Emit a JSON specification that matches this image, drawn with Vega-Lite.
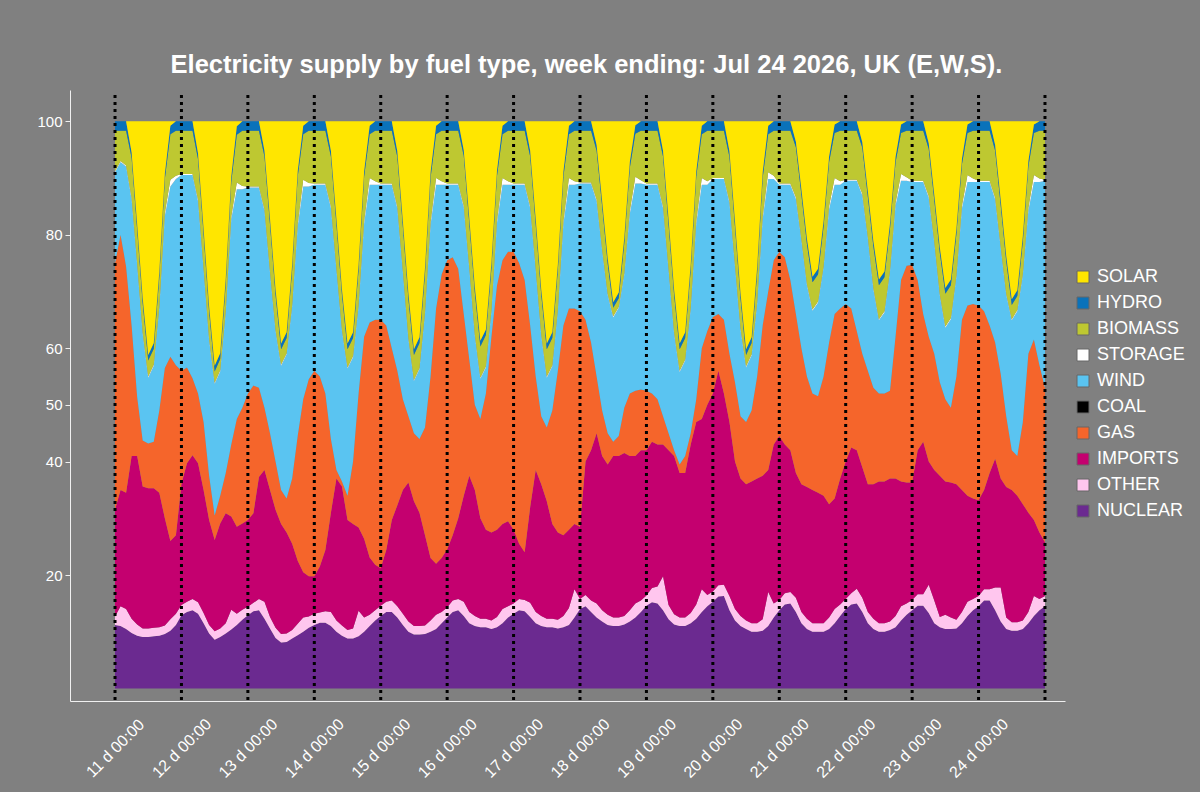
{
  "$schema": "https://vega.github.io/schema/vega-lite/v6.json",
  "width": 995,
  "height": 611,
  "autosize": {"type": "none"},
  "padding": {"left": 70, "top": 90, "right": 135, "bottom": 91},
  "background": "#808080",
  "config": {"view": {"stroke": null}, "font": "Liberation Sans"},
  "title": {
    "text": "Electricity supply by fuel type, week ending:  Jul 24 2026, UK (E,W,S).",
    "color": "white",
    "font": "Liberation Sans",
    "fontSize": 25.5,
    "fontWeight": "bold",
    "anchor": "middle",
    "dx": 19,
    "dy": 23,
    "offset": 15,
    "baseline": "alphabetic"
  },
  "datasets": {
    "fuels": [
      {"fuel": "NUCLEAR", "rank": 1}, {"fuel": "OTHER", "rank": 2}, {"fuel": "IMPORTS", "rank": 3},
      {"fuel": "GAS", "rank": 4}, {"fuel": "COAL", "rank": 5}, {"fuel": "WIND", "rank": 6},
      {"fuel": "STORAGE", "rank": 7}, {"fuel": "BIOMASS", "rank": 8}, {"fuel": "HYDRO", "rank": 9},
      {"fuel": "SOLAR", "rank": 10}
    ],
    "supply": [
      {"t":"2026-07-11T00:00","NUCLEAR":11.2,"OTHER":1.5,"IMPORTS":18.8,"GAS":43.5,"WIND":16,"STORAGE":0.2,"BIOMASS":7.1,"HYDRO":1.7,"SOLAR":0},
      {"t":"2026-07-11T02:00","NUCLEAR":11.0,"OTHER":3.5,"IMPORTS":20.5,"GAS":45,"WIND":12.8,"STORAGE":0.2,"BIOMASS":5.3,"HYDRO":1.7,"SOLAR":0},
      {"t":"2026-07-11T04:00","NUCLEAR":10.5,"OTHER":3.5,"IMPORTS":20.5,"GAS":39.9,"WIND":17.6,"STORAGE":0.2,"BIOMASS":6.1,"HYDRO":1.7,"SOLAR":0},
      {"t":"2026-07-11T06:00","NUCLEAR":9.8,"OTHER":2.5,"IMPORTS":28.7,"GAS":23,"WIND":22.2,"STORAGE":0.3,"BIOMASS":7.0,"HYDRO":1,"SOLAR":5.5},
      {"t":"2026-07-11T08:00","NUCLEAR":9.3,"OTHER":2.0,"IMPORTS":29.7,"GAS":10.4,"WIND":23.3,"STORAGE":0.2,"BIOMASS":6.0,"HYDRO":1,"SOLAR":18.1},
      {"t":"2026-07-11T10:00","NUCLEAR":9.1,"OTHER":1.5,"IMPORTS":25,"GAS":8.1,"WIND":18.8,"STORAGE":0.2,"BIOMASS":5.2,"HYDRO":1,"SOLAR":31.1},
      {"t":"2026-07-11T12:00","NUCLEAR":9.1,"OTHER":1.5,"IMPORTS":24.7,"GAS":7.9,"WIND":11.6,"STORAGE":0.2,"BIOMASS":2.8,"HYDRO":1,"SOLAR":41.2},
      {"t":"2026-07-11T14:00","NUCLEAR":9.2,"OTHER":1.5,"IMPORTS":24.6,"GAS":8.2,"WIND":13.4,"STORAGE":0.2,"BIOMASS":2.8,"HYDRO":1,"SOLAR":39.1},
      {"t":"2026-07-11T16:00","NUCLEAR":9.3,"OTHER":1.5,"IMPORTS":23.7,"GAS":14.5,"WIND":18.1,"STORAGE":0.2,"BIOMASS":5.2,"HYDRO":1,"SOLAR":26.5},
      {"t":"2026-07-11T18:00","NUCLEAR":9.6,"OTHER":1.5,"IMPORTS":18.9,"GAS":26.5,"WIND":26.8,"STORAGE":0.5,"BIOMASS":6.0,"HYDRO":1,"SOLAR":9.2},
      {"t":"2026-07-11T20:00","NUCLEAR":10.2,"OTHER":2.0,"IMPORTS":13.8,"GAS":32.5,"WIND":30,"STORAGE":1.2,"BIOMASS":8.0,"HYDRO":1.5,"SOLAR":0.8},
      {"t":"2026-07-11T22:00","NUCLEAR":11.2,"OTHER":2.0,"IMPORTS":13.8,"GAS":30,"WIND":32.8,"STORAGE":0.6,"BIOMASS":7.9,"HYDRO":1.7,"SOLAR":0},
      {"t":"2026-07-12T00:00","NUCLEAR":12.9,"OTHER":1.8,"IMPORTS":21.4,"GAS":19.9,"WIND":34.5,"STORAGE":0.2,"BIOMASS":7.6,"HYDRO":1.7,"SOLAR":0},
      {"t":"2026-07-12T02:00","NUCLEAR":13.5,"OTHER":1.8,"IMPORTS":24.4,"GAS":16.9,"WIND":33.9,"STORAGE":0.2,"BIOMASS":7.6,"HYDRO":1.7,"SOLAR":0},
      {"t":"2026-07-12T04:00","NUCLEAR":13.8,"OTHER":2.0,"IMPORTS":25.3,"GAS":13.6,"WIND":35.8,"STORAGE":0.2,"BIOMASS":7.6,"HYDRO":1.7,"SOLAR":0},
      {"t":"2026-07-12T06:00","NUCLEAR":13.2,"OTHER":2.0,"IMPORTS":24.5,"GAS":12.3,"WIND":33.9,"STORAGE":0.3,"BIOMASS":7.1,"HYDRO":1,"SOLAR":5.7},
      {"t":"2026-07-12T08:00","NUCLEAR":11.5,"OTHER":1.8,"IMPORTS":21.7,"GAS":12,"WIND":26.8,"STORAGE":0.2,"BIOMASS":6.1,"HYDRO":1,"SOLAR":18.9},
      {"t":"2026-07-12T10:00","NUCLEAR":9.7,"OTHER":1.5,"IMPORTS":18.5,"GAS":7.8,"WIND":23.9,"STORAGE":0.2,"BIOMASS":4.8,"HYDRO":1,"SOLAR":32.6},
      {"t":"2026-07-12T12:00","NUCLEAR":8.6,"OTHER":1.5,"IMPORTS":16.1,"GAS":4.3,"WIND":23.2,"STORAGE":0.2,"BIOMASS":2.0,"HYDRO":1,"SOLAR":43.1},
      {"t":"2026-07-12T14:00","NUCLEAR":9.1,"OTHER":1.5,"IMPORTS":18.5,"GAS":4.9,"WIND":21.9,"STORAGE":0.2,"BIOMASS":2.0,"HYDRO":1,"SOLAR":40.9},
      {"t":"2026-07-12T16:00","NUCLEAR":9.7,"OTHER":1.8,"IMPORTS":19.4,"GAS":7.1,"WIND":28.3,"STORAGE":0.2,"BIOMASS":4.8,"HYDRO":1,"SOLAR":27.7},
      {"t":"2026-07-12T18:00","NUCLEAR":10.4,"OTHER":3.5,"IMPORTS":16.4,"GAS":12.7,"WIND":39.7,"STORAGE":0.5,"BIOMASS":6.1,"HYDRO":1,"SOLAR":9.7},
      {"t":"2026-07-12T20:00","NUCLEAR":11.2,"OTHER":2.0,"IMPORTS":15.3,"GAS":19,"WIND":40.5,"STORAGE":1.2,"BIOMASS":8.4,"HYDRO":1.5,"SOLAR":0.9},
      {"t":"2026-07-12T22:00","NUCLEAR":12.1,"OTHER":1.8,"IMPORTS":15.2,"GAS":20.4,"WIND":38.5,"STORAGE":0.6,"BIOMASS":9.7,"HYDRO":1.7,"SOLAR":0},
      {"t":"2026-07-13T00:00","NUCLEAR":12.9,"OTHER":1.5,"IMPORTS":15.3,"GAS":22.3,"WIND":36.3,"STORAGE":0.2,"BIOMASS":9.8,"HYDRO":1.7,"SOLAR":0},
      {"t":"2026-07-13T02:00","NUCLEAR":13.6,"OTHER":1.5,"IMPORTS":15.8,"GAS":22.5,"WIND":34.9,"STORAGE":0.2,"BIOMASS":9.8,"HYDRO":1.7,"SOLAR":0},
      {"t":"2026-07-13T04:00","NUCLEAR":13.8,"OTHER":2.0,"IMPORTS":21.5,"GAS":15.7,"WIND":35.3,"STORAGE":0.2,"BIOMASS":9.8,"HYDRO":1.7,"SOLAR":0},
      {"t":"2026-07-13T06:00","NUCLEAR":12.3,"OTHER":3.0,"IMPORTS":23.2,"GAS":11,"WIND":34.7,"STORAGE":0.3,"BIOMASS":9.3,"HYDRO":1,"SOLAR":5.2},
      {"t":"2026-07-13T08:00","NUCLEAR":10.6,"OTHER":2.0,"IMPORTS":22.4,"GAS":10,"WIND":28.3,"STORAGE":0.2,"BIOMASS":8.3,"HYDRO":1,"SOLAR":17.2},
      {"t":"2026-07-13T10:00","NUCLEAR":8.9,"OTHER":1.8,"IMPORTS":20.8,"GAS":8.5,"WIND":23,"STORAGE":0.2,"BIOMASS":6.2,"HYDRO":1,"SOLAR":29.6},
      {"t":"2026-07-13T12:00","NUCLEAR":8.1,"OTHER":1.5,"IMPORTS":19.4,"GAS":6,"WIND":21.9,"STORAGE":0.2,"BIOMASS":2.7,"HYDRO":1,"SOLAR":39.2},
      {"t":"2026-07-13T14:00","NUCLEAR":8.2,"OTHER":1.5,"IMPORTS":17.8,"GAS":6,"WIND":25.4,"STORAGE":0.2,"BIOMASS":2.7,"HYDRO":1,"SOLAR":37.2},
      {"t":"2026-07-13T16:00","NUCLEAR":8.8,"OTHER":1.5,"IMPORTS":15.2,"GAS":11.5,"WIND":30.4,"STORAGE":0.2,"BIOMASS":6.2,"HYDRO":1,"SOLAR":25.2},
      {"t":"2026-07-13T18:00","NUCLEAR":9.4,"OTHER":2.0,"IMPORTS":11.1,"GAS":22,"WIND":36.9,"STORAGE":0.5,"BIOMASS":8.3,"HYDRO":1,"SOLAR":8.8},
      {"t":"2026-07-13T20:00","NUCLEAR":10.0,"OTHER":2.5,"IMPORTS":8,"GAS":30.5,"WIND":37.5,"STORAGE":1.2,"BIOMASS":8.0,"HYDRO":1.5,"SOLAR":0.8},
      {"t":"2026-07-13T22:00","NUCLEAR":10.7,"OTHER":2.0,"IMPORTS":7.1,"GAS":34.7,"WIND":34,"STORAGE":0.6,"BIOMASS":9.2,"HYDRO":1.7,"SOLAR":0},
      {"t":"2026-07-14T00:00","NUCLEAR":11.2,"OTHER":2.0,"IMPORTS":6.6,"GAS":36.2,"WIND":32.8,"STORAGE":0.2,"BIOMASS":9.3,"HYDRO":1.7,"SOLAR":0},
      {"t":"2026-07-14T02:00","NUCLEAR":11.6,"OTHER":1.8,"IMPORTS":8.1,"GAS":33.5,"WIND":33.8,"STORAGE":0.2,"BIOMASS":9.3,"HYDRO":1.7,"SOLAR":0},
      {"t":"2026-07-14T04:00","NUCLEAR":11.6,"OTHER":2.0,"IMPORTS":10.8,"GAS":27.6,"WIND":36.8,"STORAGE":0.2,"BIOMASS":9.3,"HYDRO":1.7,"SOLAR":0},
      {"t":"2026-07-14T06:00","NUCLEAR":11.0,"OTHER":2.5,"IMPORTS":17.5,"GAS":13,"WIND":40.7,"STORAGE":0.3,"BIOMASS":8.8,"HYDRO":1,"SOLAR":5.2},
      {"t":"2026-07-14T08:00","NUCLEAR":10.0,"OTHER":2.0,"IMPORTS":25,"GAS":1.5,"WIND":35.3,"STORAGE":0.2,"BIOMASS":7.8,"HYDRO":1,"SOLAR":17.2},
      {"t":"2026-07-14T10:00","NUCLEAR":9.3,"OTHER":1.8,"IMPORTS":24.5,"GAS":0.9,"WIND":26.5,"STORAGE":0.2,"BIOMASS":6.2,"HYDRO":1,"SOLAR":29.6},
      {"t":"2026-07-14T12:00","NUCLEAR":8.8,"OTHER":1.5,"IMPORTS":19.4,"GAS":4.3,"WIND":22.4,"STORAGE":0.2,"BIOMASS":3.2,"HYDRO":1,"SOLAR":39.2},
      {"t":"2026-07-14T14:00","NUCLEAR":8.8,"OTHER":1.8,"IMPORTS":18.4,"GAS":11,"WIND":18.4,"STORAGE":0.2,"BIOMASS":3.2,"HYDRO":1,"SOLAR":37.2},
      {"t":"2026-07-14T16:00","NUCLEAR":9.2,"OTHER":4.5,"IMPORTS":14.7,"GAS":23.6,"WIND":15.4,"STORAGE":0.2,"BIOMASS":6.2,"HYDRO":1,"SOLAR":25.2},
      {"t":"2026-07-14T18:00","NUCLEAR":10.0,"OTHER":2.5,"IMPORTS":13.9,"GAS":35.6,"WIND":19.9,"STORAGE":0.5,"BIOMASS":7.8,"HYDRO":1,"SOLAR":8.8},
      {"t":"2026-07-14T20:00","NUCLEAR":11.0,"OTHER":2.0,"IMPORTS":10.1,"GAS":41.4,"WIND":24.3,"STORAGE":1.2,"BIOMASS":7.7,"HYDRO":1.5,"SOLAR":0.8},
      {"t":"2026-07-14T22:00","NUCLEAR":12.0,"OTHER":1.8,"IMPORTS":8,"GAS":43.2,"WIND":23.8,"STORAGE":0.6,"BIOMASS":8.9,"HYDRO":1.7,"SOLAR":0},
      {"t":"2026-07-15T00:00","NUCLEAR":12.8,"OTHER":1.8,"IMPORTS":6.6,"GAS":43.8,"WIND":23.8,"STORAGE":0.2,"BIOMASS":9.3,"HYDRO":1.7,"SOLAR":0},
      {"t":"2026-07-15T02:00","NUCLEAR":13.5,"OTHER":1.8,"IMPORTS":9.1,"GAS":39.6,"WIND":24.8,"STORAGE":0.2,"BIOMASS":9.3,"HYDRO":1.7,"SOLAR":0},
      {"t":"2026-07-15T04:00","NUCLEAR":13.5,"OTHER":2.0,"IMPORTS":14.2,"GAS":30.3,"WIND":28.8,"STORAGE":0.2,"BIOMASS":9.3,"HYDRO":1.7,"SOLAR":0},
      {"t":"2026-07-15T06:00","NUCLEAR":12.5,"OTHER":2.0,"IMPORTS":17.8,"GAS":23.7,"WIND":28.6,"STORAGE":0.3,"BIOMASS":8.8,"HYDRO":1,"SOLAR":5.3},
      {"t":"2026-07-15T08:00","NUCLEAR":11.2,"OTHER":2.0,"IMPORTS":21.8,"GAS":16,"WIND":22.4,"STORAGE":0.2,"BIOMASS":7.8,"HYDRO":1,"SOLAR":17.6},
      {"t":"2026-07-15T10:00","NUCLEAR":10.0,"OTHER":1.8,"IMPORTS":24.5,"GAS":11.7,"WIND":13.6,"STORAGE":0.2,"BIOMASS":6.9,"HYDRO":1,"SOLAR":30.3},
      {"t":"2026-07-15T12:00","NUCLEAR":9.5,"OTHER":1.5,"IMPORTS":22,"GAS":12,"WIND":9.2,"STORAGE":0.2,"BIOMASS":4.4,"HYDRO":1,"SOLAR":40.2},
      {"t":"2026-07-15T14:00","NUCLEAR":9.5,"OTHER":1.5,"IMPORTS":20,"GAS":13,"WIND":12.3,"STORAGE":0.2,"BIOMASS":4.4,"HYDRO":1,"SOLAR":38.1},
      {"t":"2026-07-15T16:00","NUCLEAR":9.6,"OTHER":1.5,"IMPORTS":15.9,"GAS":19,"WIND":20.1,"STORAGE":0.2,"BIOMASS":6.9,"HYDRO":1,"SOLAR":25.8},
      {"t":"2026-07-15T18:00","NUCLEAR":10.0,"OTHER":2.0,"IMPORTS":11,"GAS":32,"WIND":26.7,"STORAGE":0.5,"BIOMASS":7.8,"HYDRO":1,"SOLAR":9.0},
      {"t":"2026-07-15T20:00","NUCLEAR":10.5,"OTHER":2.5,"IMPORTS":9,"GAS":45,"WIND":21.8,"STORAGE":1.2,"BIOMASS":7.7,"HYDRO":1.5,"SOLAR":0.8},
      {"t":"2026-07-15T22:00","NUCLEAR":11.5,"OTHER":2.0,"IMPORTS":9.5,"GAS":50,"WIND":15.8,"STORAGE":0.6,"BIOMASS":8.9,"HYDRO":1.7,"SOLAR":0},
      {"t":"2026-07-16T00:00","NUCLEAR":12.5,"OTHER":1.8,"IMPORTS":10.2,"GAS":51,"WIND":13.3,"STORAGE":0.2,"BIOMASS":9.3,"HYDRO":1.7,"SOLAR":0},
      {"t":"2026-07-16T02:00","NUCLEAR":13.5,"OTHER":2.0,"IMPORTS":11.5,"GAS":49,"WIND":12.8,"STORAGE":0.2,"BIOMASS":9.3,"HYDRO":1.7,"SOLAR":0},
      {"t":"2026-07-16T04:00","NUCLEAR":13.8,"OTHER":2.0,"IMPORTS":14.2,"GAS":44,"WIND":14.8,"STORAGE":0.2,"BIOMASS":9.3,"HYDRO":1.7,"SOLAR":0},
      {"t":"2026-07-16T06:00","NUCLEAR":12.8,"OTHER":2.5,"IMPORTS":18.7,"GAS":32,"WIND":18.8,"STORAGE":0.3,"BIOMASS":8.8,"HYDRO":1,"SOLAR":5.1},
      {"t":"2026-07-16T08:00","NUCLEAR":11.5,"OTHER":2.0,"IMPORTS":24,"GAS":20.5,"WIND":16,"STORAGE":0.2,"BIOMASS":7.8,"HYDRO":1,"SOLAR":17.0},
      {"t":"2026-07-16T10:00","NUCLEAR":11.0,"OTHER":1.8,"IMPORTS":22.2,"GAS":15,"WIND":12.2,"STORAGE":0.2,"BIOMASS":7.4,"HYDRO":1,"SOLAR":29.2},
      {"t":"2026-07-16T12:00","NUCLEAR":10.8,"OTHER":1.5,"IMPORTS":17.7,"GAS":17.5,"WIND":7.1,"STORAGE":0.2,"BIOMASS":5.5,"HYDRO":1,"SOLAR":38.7},
      {"t":"2026-07-16T14:00","NUCLEAR":10.8,"OTHER":1.5,"IMPORTS":15.7,"GAS":24,"WIND":4.6,"STORAGE":0.2,"BIOMASS":5.5,"HYDRO":1,"SOLAR":36.7},
      {"t":"2026-07-16T16:00","NUCLEAR":10.5,"OTHER":1.5,"IMPORTS":15.5,"GAS":34.5,"WIND":4.5,"STORAGE":0.2,"BIOMASS":7.4,"HYDRO":1,"SOLAR":24.9},
      {"t":"2026-07-16T18:00","NUCLEAR":10.8,"OTHER":1.8,"IMPORTS":15.4,"GAS":43,"WIND":11,"STORAGE":0.5,"BIOMASS":7.8,"HYDRO":1,"SOLAR":8.7},
      {"t":"2026-07-16T20:00","NUCLEAR":11.5,"OTHER":2.5,"IMPORTS":15,"GAS":46.5,"WIND":13.3,"STORAGE":1.2,"BIOMASS":7.7,"HYDRO":1.5,"SOLAR":0.8},
      {"t":"2026-07-16T22:00","NUCLEAR":12.5,"OTHER":2.0,"IMPORTS":15,"GAS":47.5,"WIND":11.8,"STORAGE":0.6,"BIOMASS":8.9,"HYDRO":1.7,"SOLAR":0},
      {"t":"2026-07-17T00:00","NUCLEAR":13.2,"OTHER":1.8,"IMPORTS":13,"GAS":49,"WIND":11.8,"STORAGE":0.2,"BIOMASS":9.3,"HYDRO":1.7,"SOLAR":0},
      {"t":"2026-07-17T02:00","NUCLEAR":13.8,"OTHER":2.0,"IMPORTS":9.7,"GAS":49.5,"WIND":13.8,"STORAGE":0.2,"BIOMASS":9.3,"HYDRO":1.7,"SOLAR":0},
      {"t":"2026-07-17T04:00","NUCLEAR":13.6,"OTHER":2.0,"IMPORTS":8.4,"GAS":48,"WIND":16.8,"STORAGE":0.2,"BIOMASS":9.3,"HYDRO":1.7,"SOLAR":0},
      {"t":"2026-07-17T06:00","NUCLEAR":12.6,"OTHER":2.5,"IMPORTS":16.9,"GAS":32,"WIND":20.7,"STORAGE":0.3,"BIOMASS":8.8,"HYDRO":1,"SOLAR":5.2},
      {"t":"2026-07-17T08:00","NUCLEAR":11.5,"OTHER":2.0,"IMPORTS":25,"GAS":16.5,"WIND":18.8,"STORAGE":0.2,"BIOMASS":7.8,"HYDRO":1,"SOLAR":17.2},
      {"t":"2026-07-17T10:00","NUCLEAR":11.0,"OTHER":1.8,"IMPORTS":23.2,"GAS":12,"WIND":14.2,"STORAGE":0.2,"BIOMASS":7.0,"HYDRO":1,"SOLAR":29.6},
      {"t":"2026-07-17T12:00","NUCLEAR":10.8,"OTHER":1.5,"IMPORTS":20.7,"GAS":13,"WIND":8.8,"STORAGE":0.2,"BIOMASS":4.8,"HYDRO":1,"SOLAR":39.2},
      {"t":"2026-07-17T14:00","NUCLEAR":10.8,"OTHER":1.5,"IMPORTS":16.7,"GAS":20,"WIND":7.8,"STORAGE":0.2,"BIOMASS":4.8,"HYDRO":1,"SOLAR":37.2},
      {"t":"2026-07-17T16:00","NUCLEAR":10.6,"OTHER":1.5,"IMPORTS":15.4,"GAS":28.5,"WIND":10.6,"STORAGE":0.2,"BIOMASS":7.0,"HYDRO":1,"SOLAR":25.2},
      {"t":"2026-07-17T18:00","NUCLEAR":10.8,"OTHER":2.0,"IMPORTS":14.2,"GAS":37,"WIND":17.9,"STORAGE":0.5,"BIOMASS":7.8,"HYDRO":1,"SOLAR":8.8},
      {"t":"2026-07-17T20:00","NUCLEAR":11.2,"OTHER":3.0,"IMPORTS":13.8,"GAS":39,"WIND":21.8,"STORAGE":1.2,"BIOMASS":7.7,"HYDRO":1.5,"SOLAR":0.8},
      {"t":"2026-07-17T22:00","NUCLEAR":12.5,"OTHER":5.0,"IMPORTS":11.5,"GAS":38,"WIND":21.8,"STORAGE":0.6,"BIOMASS":8.9,"HYDRO":1.7,"SOLAR":0},
      {"t":"2026-07-18T00:00","NUCLEAR":14.0,"OTHER":1.8,"IMPORTS":12.7,"GAS":38,"WIND":22.5,"STORAGE":0.2,"BIOMASS":9.1,"HYDRO":1.7,"SOLAR":0},
      {"t":"2026-07-18T02:00","NUCLEAR":14.5,"OTHER":2.0,"IMPORTS":23.5,"GAS":25,"WIND":24,"STORAGE":0.2,"BIOMASS":9.1,"HYDRO":1.7,"SOLAR":0},
      {"t":"2026-07-18T04:00","NUCLEAR":13.5,"OTHER":2.0,"IMPORTS":26.5,"GAS":19,"WIND":28,"STORAGE":0.2,"BIOMASS":9.1,"HYDRO":1.7,"SOLAR":0},
      {"t":"2026-07-18T06:00","NUCLEAR":12.5,"OTHER":2.5,"IMPORTS":30,"GAS":10,"WIND":30.9,"STORAGE":0.3,"BIOMASS":8.6,"HYDRO":1,"SOLAR":4.2},
      {"t":"2026-07-18T08:00","NUCLEAR":11.8,"OTHER":2.0,"IMPORTS":27.2,"GAS":8,"WIND":28.2,"STORAGE":0.2,"BIOMASS":7.6,"HYDRO":1,"SOLAR":14.0},
      {"t":"2026-07-18T10:00","NUCLEAR":11.2,"OTHER":1.8,"IMPORTS":26.5,"GAS":5.5,"WIND":24.4,"STORAGE":0.2,"BIOMASS":5.3,"HYDRO":1,"SOLAR":24.1},
      {"t":"2026-07-18T12:00","NUCLEAR":11.0,"OTHER":1.5,"IMPORTS":28.5,"GAS":2.5,"WIND":21.9,"STORAGE":0.2,"BIOMASS":1.5,"HYDRO":1,"SOLAR":31.9},
      {"t":"2026-07-18T14:00","NUCLEAR":11.0,"OTHER":1.5,"IMPORTS":28.5,"GAS":3.5,"WIND":22.6,"STORAGE":0.2,"BIOMASS":1.5,"HYDRO":1,"SOLAR":30.2},
      {"t":"2026-07-18T16:00","NUCLEAR":11.3,"OTHER":1.5,"IMPORTS":28.7,"GAS":8,"WIND":23.5,"STORAGE":0.2,"BIOMASS":5.3,"HYDRO":1,"SOLAR":20.5},
      {"t":"2026-07-18T18:00","NUCLEAR":11.8,"OTHER":2.0,"IMPORTS":27.2,"GAS":11,"WIND":31.7,"STORAGE":0.5,"BIOMASS":7.6,"HYDRO":1,"SOLAR":7.2},
      {"t":"2026-07-18T20:00","NUCLEAR":12.5,"OTHER":2.5,"IMPORTS":26,"GAS":11.5,"WIND":36.5,"STORAGE":1.2,"BIOMASS":7.6,"HYDRO":1.5,"SOLAR":0.7},
      {"t":"2026-07-18T22:00","NUCLEAR":13.5,"OTHER":2.0,"IMPORTS":26.5,"GAS":10.7,"WIND":36.3,"STORAGE":0.6,"BIOMASS":8.7,"HYDRO":1.7,"SOLAR":0},
      {"t":"2026-07-19T00:00","NUCLEAR":14.6,"OTHER":1.8,"IMPORTS":25.6,"GAS":10.5,"WIND":36.3,"STORAGE":0.2,"BIOMASS":9.3,"HYDRO":1.7,"SOLAR":0},
      {"t":"2026-07-19T02:00","NUCLEAR":15.2,"OTHER":2.5,"IMPORTS":25.8,"GAS":8.5,"WIND":36.8,"STORAGE":0.2,"BIOMASS":9.3,"HYDRO":1.7,"SOLAR":0},
      {"t":"2026-07-19T04:00","NUCLEAR":15.0,"OTHER":3.0,"IMPORTS":25,"GAS":8,"WIND":37.8,"STORAGE":0.2,"BIOMASS":9.3,"HYDRO":1.7,"SOLAR":0},
      {"t":"2026-07-19T06:00","NUCLEAR":13.8,"OTHER":6.0,"IMPORTS":23.2,"GAS":5,"WIND":36.7,"STORAGE":0.3,"BIOMASS":8.8,"HYDRO":1,"SOLAR":5.2},
      {"t":"2026-07-19T08:00","NUCLEAR":12.2,"OTHER":2.5,"IMPORTS":27.3,"GAS":3,"WIND":28.8,"STORAGE":0.2,"BIOMASS":7.8,"HYDRO":1,"SOLAR":17.2},
      {"t":"2026-07-19T10:00","NUCLEAR":11.3,"OTHER":1.8,"IMPORTS":27.9,"GAS":1,"WIND":20.6,"STORAGE":0.2,"BIOMASS":6.6,"HYDRO":1,"SOLAR":29.6},
      {"t":"2026-07-19T12:00","NUCLEAR":11.0,"OTHER":1.5,"IMPORTS":25.5,"GAS":1.5,"WIND":16.3,"STORAGE":0.2,"BIOMASS":3.8,"HYDRO":1,"SOLAR":39.2},
      {"t":"2026-07-19T14:00","NUCLEAR":11.0,"OTHER":1.5,"IMPORTS":25.5,"GAS":3,"WIND":16.8,"STORAGE":0.2,"BIOMASS":3.8,"HYDRO":1,"SOLAR":37.2},
      {"t":"2026-07-19T16:00","NUCLEAR":11.5,"OTHER":1.8,"IMPORTS":29.7,"GAS":2,"WIND":22,"STORAGE":0.2,"BIOMASS":6.6,"HYDRO":1,"SOLAR":25.2},
      {"t":"2026-07-19T18:00","NUCLEAR":12.3,"OTHER":2.5,"IMPORTS":32.2,"GAS":4,"WIND":30.9,"STORAGE":0.5,"BIOMASS":7.8,"HYDRO":1,"SOLAR":8.8},
      {"t":"2026-07-19T20:00","NUCLEAR":13.5,"OTHER":4.0,"IMPORTS":30,"GAS":12.5,"WIND":28.8,"STORAGE":1.2,"BIOMASS":7.7,"HYDRO":1.5,"SOLAR":0.8},
      {"t":"2026-07-19T22:00","NUCLEAR":14.5,"OTHER":2.0,"IMPORTS":33.5,"GAS":13,"WIND":25.8,"STORAGE":0.6,"BIOMASS":8.9,"HYDRO":1.7,"SOLAR":0},
      {"t":"2026-07-20T00:00","NUCLEAR":15.3,"OTHER":1.8,"IMPORTS":34.9,"GAS":13.5,"WIND":24.3,"STORAGE":0.2,"BIOMASS":8.3,"HYDRO":1.7,"SOLAR":0},
      {"t":"2026-07-20T02:00","NUCLEAR":16.2,"OTHER":2.0,"IMPORTS":37.8,"GAS":10,"WIND":23.8,"STORAGE":0.2,"BIOMASS":8.3,"HYDRO":1.7,"SOLAR":0},
      {"t":"2026-07-20T04:00","NUCLEAR":16.3,"OTHER":2.0,"IMPORTS":33.7,"GAS":13,"WIND":24.8,"STORAGE":0.2,"BIOMASS":8.3,"HYDRO":1.7,"SOLAR":0},
      {"t":"2026-07-20T06:00","NUCLEAR":13.8,"OTHER":2.5,"IMPORTS":30.7,"GAS":12,"WIND":26.6,"STORAGE":0.3,"BIOMASS":7.8,"HYDRO":1,"SOLAR":5.3},
      {"t":"2026-07-20T08:00","NUCLEAR":12.0,"OTHER":2.0,"IMPORTS":26,"GAS":14,"WIND":20.4,"STORAGE":0.2,"BIOMASS":6.8,"HYDRO":1,"SOLAR":17.6},
      {"t":"2026-07-20T10:00","NUCLEAR":11.0,"OTHER":1.8,"IMPORTS":24.2,"GAS":11,"WIND":15.3,"STORAGE":0.2,"BIOMASS":5.2,"HYDRO":1,"SOLAR":30.3},
      {"t":"2026-07-20T12:00","NUCLEAR":10.5,"OTHER":1.5,"IMPORTS":24,"GAS":11,"WIND":9.6,"STORAGE":0.2,"BIOMASS":2.0,"HYDRO":1,"SOLAR":40.2},
      {"t":"2026-07-20T14:00","NUCLEAR":10.0,"OTHER":1.5,"IMPORTS":25,"GAS":12.5,"WIND":9.7,"STORAGE":0.2,"BIOMASS":2.0,"HYDRO":1,"SOLAR":38.1},
      {"t":"2026-07-20T16:00","NUCLEAR":10.0,"OTHER":1.5,"IMPORTS":25.5,"GAS":18,"WIND":12.8,"STORAGE":0.2,"BIOMASS":5.2,"HYDRO":1,"SOLAR":25.8},
      {"t":"2026-07-20T18:00","NUCLEAR":10.2,"OTHER":2.0,"IMPORTS":25.3,"GAS":26.5,"WIND":18.7,"STORAGE":0.5,"BIOMASS":6.8,"HYDRO":1,"SOLAR":9.0},
      {"t":"2026-07-20T20:00","NUCLEAR":11.0,"OTHER":6.0,"IMPORTS":21.5,"GAS":31.5,"WIND":19.8,"STORAGE":1.2,"BIOMASS":6.7,"HYDRO":1.5,"SOLAR":0.8},
      {"t":"2026-07-20T22:00","NUCLEAR":12.5,"OTHER":2.5,"IMPORTS":28,"GAS":32.5,"WIND":14.3,"STORAGE":0.6,"BIOMASS":7.9,"HYDRO":1.7,"SOLAR":0},
      {"t":"2026-07-21T00:00","NUCLEAR":13.8,"OTHER":1.8,"IMPORTS":28.9,"GAS":32.5,"WIND":11.8,"STORAGE":0.2,"BIOMASS":9.3,"HYDRO":1.7,"SOLAR":0},
      {"t":"2026-07-21T02:00","NUCLEAR":14.8,"OTHER":2.0,"IMPORTS":26.2,"GAS":33,"WIND":12.8,"STORAGE":0.2,"BIOMASS":9.3,"HYDRO":1.7,"SOLAR":0},
      {"t":"2026-07-21T04:00","NUCLEAR":15.0,"OTHER":2.0,"IMPORTS":25,"GAS":30,"WIND":16.8,"STORAGE":0.2,"BIOMASS":9.3,"HYDRO":1.7,"SOLAR":0},
      {"t":"2026-07-21T06:00","NUCLEAR":13.5,"OTHER":2.5,"IMPORTS":22,"GAS":28,"WIND":20.3,"STORAGE":0.3,"BIOMASS":8.8,"HYDRO":1,"SOLAR":3.6},
      {"t":"2026-07-21T08:00","NUCLEAR":11.5,"OTHER":2.0,"IMPORTS":22.5,"GAS":24,"WIND":19,"STORAGE":0.2,"BIOMASS":7.8,"HYDRO":1,"SOLAR":12.0},
      {"t":"2026-07-21T10:00","NUCLEAR":10.5,"OTHER":1.8,"IMPORTS":23.2,"GAS":19.5,"WIND":16.1,"STORAGE":0.2,"BIOMASS":7.0,"HYDRO":1,"SOLAR":20.7},
      {"t":"2026-07-21T12:00","NUCLEAR":10.0,"OTHER":1.5,"IMPORTS":23.5,"GAS":17,"WIND":14.6,"STORAGE":0.2,"BIOMASS":4.8,"HYDRO":1,"SOLAR":27.4},
      {"t":"2026-07-21T14:00","NUCLEAR":10.0,"OTHER":1.5,"IMPORTS":23,"GAS":17,"WIND":16.5,"STORAGE":0.2,"BIOMASS":4.8,"HYDRO":1,"SOLAR":26.0},
      {"t":"2026-07-21T16:00","NUCLEAR":10.0,"OTHER":1.5,"IMPORTS":22.5,"GAS":21,"WIND":19.2,"STORAGE":0.2,"BIOMASS":7.0,"HYDRO":1,"SOLAR":17.6},
      {"t":"2026-07-21T18:00","NUCLEAR":10.5,"OTHER":2.0,"IMPORTS":20,"GAS":28.5,"WIND":23.5,"STORAGE":0.5,"BIOMASS":7.8,"HYDRO":1,"SOLAR":6.2},
      {"t":"2026-07-21T20:00","NUCLEAR":11.5,"OTHER":2.5,"IMPORTS":19.5,"GAS":32.5,"WIND":22.8,"STORAGE":1.2,"BIOMASS":7.9,"HYDRO":1.5,"SOLAR":0.6},
      {"t":"2026-07-21T22:00","NUCLEAR":12.8,"OTHER":2.0,"IMPORTS":22.2,"GAS":30,"WIND":21.8,"STORAGE":0.6,"BIOMASS":8.9,"HYDRO":1.7,"SOLAR":0},
      {"t":"2026-07-22T00:00","NUCLEAR":14.0,"OTHER":1.8,"IMPORTS":24.2,"GAS":27.8,"WIND":21.7,"STORAGE":0.2,"BIOMASS":8.6,"HYDRO":1.7,"SOLAR":0},
      {"t":"2026-07-22T02:00","NUCLEAR":14.8,"OTHER":2.0,"IMPORTS":25.7,"GAS":24.5,"WIND":22.5,"STORAGE":0.2,"BIOMASS":8.6,"HYDRO":1.7,"SOLAR":0},
      {"t":"2026-07-22T04:00","NUCLEAR":15.0,"OTHER":2.6,"IMPORTS":24.4,"GAS":21,"WIND":26.5,"STORAGE":0.2,"BIOMASS":8.6,"HYDRO":1.7,"SOLAR":0},
      {"t":"2026-07-22T06:00","NUCLEAR":13.5,"OTHER":2.5,"IMPORTS":23,"GAS":20,"WIND":27.9,"STORAGE":0.3,"BIOMASS":8.1,"HYDRO":1,"SOLAR":3.7},
      {"t":"2026-07-22T08:00","NUCLEAR":11.5,"OTHER":2.0,"IMPORTS":22.5,"GAS":20,"WIND":23.4,"STORAGE":0.2,"BIOMASS":7.1,"HYDRO":1,"SOLAR":12.3},
      {"t":"2026-07-22T10:00","NUCLEAR":10.5,"OTHER":1.8,"IMPORTS":23.7,"GAS":17,"WIND":17.4,"STORAGE":0.2,"BIOMASS":7.3,"HYDRO":1,"SOLAR":21.1},
      {"t":"2026-07-22T12:00","NUCLEAR":10.0,"OTHER":1.5,"IMPORTS":25,"GAS":15.5,"WIND":12.9,"STORAGE":0.2,"BIOMASS":6.0,"HYDRO":1,"SOLAR":27.9},
      {"t":"2026-07-22T14:00","NUCLEAR":10.0,"OTHER":1.5,"IMPORTS":25,"GAS":15.5,"WIND":14.3,"STORAGE":0.2,"BIOMASS":6.0,"HYDRO":1,"SOLAR":26.5},
      {"t":"2026-07-22T16:00","NUCLEAR":10.3,"OTHER":1.5,"IMPORTS":25.2,"GAS":15.5,"WIND":21,"STORAGE":0.2,"BIOMASS":7.3,"HYDRO":1,"SOLAR":18.0},
      {"t":"2026-07-22T18:00","NUCLEAR":10.8,"OTHER":2.0,"IMPORTS":24.2,"GAS":25,"WIND":23.1,"STORAGE":0.5,"BIOMASS":7.1,"HYDRO":1,"SOLAR":6.3},
      {"t":"2026-07-22T20:00","NUCLEAR":12.0,"OTHER":2.5,"IMPORTS":22,"GAS":35.5,"WIND":17.5,"STORAGE":1.2,"BIOMASS":7.2,"HYDRO":1.5,"SOLAR":0.6},
      {"t":"2026-07-22T22:00","NUCLEAR":13.0,"OTHER":2.0,"IMPORTS":21.3,"GAS":38.2,"WIND":15,"STORAGE":0.6,"BIOMASS":8.2,"HYDRO":1.7,"SOLAR":0},
      {"t":"2026-07-23T00:00","NUCLEAR":13.8,"OTHER":1.8,"IMPORTS":20.7,"GAS":38.4,"WIND":14.6,"STORAGE":0.2,"BIOMASS":8.8,"HYDRO":1.7,"SOLAR":0},
      {"t":"2026-07-23T02:00","NUCLEAR":14.6,"OTHER":2.0,"IMPORTS":25.4,"GAS":30,"WIND":17.3,"STORAGE":0.2,"BIOMASS":8.8,"HYDRO":1.7,"SOLAR":0},
      {"t":"2026-07-23T04:00","NUCLEAR":14.6,"OTHER":2.0,"IMPORTS":26.9,"GAS":22.5,"WIND":23.3,"STORAGE":0.2,"BIOMASS":8.8,"HYDRO":1.7,"SOLAR":0},
      {"t":"2026-07-23T06:00","NUCLEAR":13.3,"OTHER":5.0,"IMPORTS":21.7,"GAS":22,"WIND":24.5,"STORAGE":0.3,"BIOMASS":8.3,"HYDRO":1,"SOLAR":3.9},
      {"t":"2026-07-23T08:00","NUCLEAR":11.5,"OTHER":4.0,"IMPORTS":23,"GAS":20.5,"WIND":19.6,"STORAGE":0.2,"BIOMASS":7.3,"HYDRO":1,"SOLAR":12.9},
      {"t":"2026-07-23T10:00","NUCLEAR":10.8,"OTHER":1.8,"IMPORTS":24.9,"GAS":16.5,"WIND":15.3,"STORAGE":0.2,"BIOMASS":7.3,"HYDRO":1,"SOLAR":22.2},
      {"t":"2026-07-23T12:00","NUCLEAR":10.5,"OTHER":2.5,"IMPORTS":23.5,"GAS":14.5,"WIND":12.6,"STORAGE":0.2,"BIOMASS":5.8,"HYDRO":1,"SOLAR":29.4},
      {"t":"2026-07-23T14:00","NUCLEAR":10.5,"OTHER":2.0,"IMPORTS":23.8,"GAS":13.2,"WIND":15.6,"STORAGE":0.2,"BIOMASS":5.8,"HYDRO":1,"SOLAR":27.9},
      {"t":"2026-07-23T16:00","NUCLEAR":10.6,"OTHER":1.5,"IMPORTS":23.9,"GAS":19,"WIND":17.6,"STORAGE":0.2,"BIOMASS":7.3,"HYDRO":1,"SOLAR":18.9},
      {"t":"2026-07-23T18:00","NUCLEAR":11.5,"OTHER":2.0,"IMPORTS":21.5,"GAS":30,"WIND":19.6,"STORAGE":0.5,"BIOMASS":7.3,"HYDRO":1,"SOLAR":6.6},
      {"t":"2026-07-23T20:00","NUCLEAR":12.8,"OTHER":2.5,"IMPORTS":18.7,"GAS":33.5,"WIND":21.8,"STORAGE":1.2,"BIOMASS":7.4,"HYDRO":1.5,"SOLAR":0.6},
      {"t":"2026-07-23T22:00","NUCLEAR":13.8,"OTHER":2.0,"IMPORTS":17.7,"GAS":34.3,"WIND":21.5,"STORAGE":0.6,"BIOMASS":8.4,"HYDRO":1.7,"SOLAR":0},
      {"t":"2026-07-24T00:00","NUCLEAR":14.5,"OTHER":1.8,"IMPORTS":16.9,"GAS":34.3,"WIND":21.8,"STORAGE":0.2,"BIOMASS":8.8,"HYDRO":1.7,"SOLAR":0},
      {"t":"2026-07-24T02:00","NUCLEAR":15.5,"OTHER":2.0,"IMPORTS":17.5,"GAS":31.5,"WIND":22.8,"STORAGE":0.2,"BIOMASS":8.8,"HYDRO":1.7,"SOLAR":0},
      {"t":"2026-07-24T04:00","NUCLEAR":15.5,"OTHER":2.0,"IMPORTS":20.5,"GAS":26,"WIND":25.3,"STORAGE":0.2,"BIOMASS":8.8,"HYDRO":1.7,"SOLAR":0},
      {"t":"2026-07-24T06:00","NUCLEAR":13.8,"OTHER":4.0,"IMPORTS":22.7,"GAS":20.5,"WIND":25.2,"STORAGE":0.3,"BIOMASS":8.3,"HYDRO":1,"SOLAR":4.2},
      {"t":"2026-07-24T08:00","NUCLEAR":11.8,"OTHER":6.0,"IMPORTS":19.2,"GAS":18.5,"WIND":22.2,"STORAGE":0.2,"BIOMASS":7.3,"HYDRO":1,"SOLAR":13.8},
      {"t":"2026-07-24T10:00","NUCLEAR":10.5,"OTHER":2.0,"IMPORTS":23,"GAS":12.5,"WIND":21.4,"STORAGE":0.2,"BIOMASS":5.7,"HYDRO":1,"SOLAR":23.7},
      {"t":"2026-07-24T12:00","NUCLEAR":10.2,"OTHER":1.5,"IMPORTS":23.3,"GAS":7,"WIND":22.9,"STORAGE":0.2,"BIOMASS":2.5,"HYDRO":1,"SOLAR":31.4},
      {"t":"2026-07-24T14:00","NUCLEAR":10.2,"OTHER":1.5,"IMPORTS":22.3,"GAS":7,"WIND":25.5,"STORAGE":0.2,"BIOMASS":2.5,"HYDRO":1,"SOLAR":29.8},
      {"t":"2026-07-24T16:00","NUCLEAR":10.5,"OTHER":1.5,"IMPORTS":20.5,"GAS":14.5,"WIND":25.9,"STORAGE":0.2,"BIOMASS":5.7,"HYDRO":1,"SOLAR":20.2},
      {"t":"2026-07-24T18:00","NUCLEAR":11.5,"OTHER":2.0,"IMPORTS":17.5,"GAS":28,"WIND":25.2,"STORAGE":0.5,"BIOMASS":7.3,"HYDRO":1,"SOLAR":7.0},
      {"t":"2026-07-24T20:00","NUCLEAR":12.8,"OTHER":3.5,"IMPORTS":13.4,"GAS":31.8,"WIND":27.8,"STORAGE":1.2,"BIOMASS":7.4,"HYDRO":1.5,"SOLAR":0.6},
      {"t":"2026-07-24T22:00","NUCLEAR":13.8,"OTHER":2.0,"IMPORTS":11.7,"GAS":29.5,"WIND":32.3,"STORAGE":0.6,"BIOMASS":8.4,"HYDRO":1.7,"SOLAR":0},
      {"t":"2026-07-25T00:00","NUCLEAR":14.5,"OTHER":1.8,"IMPORTS":9.5,"GAS":27.2,"WIND":36.5,"STORAGE":0.2,"BIOMASS":8.6,"HYDRO":1.7,"SOLAR":0}
    ]
  },
  "layer": [
    {
      "data": {"name": "supply"},
      "transform": [
        {"fold": ["NUCLEAR", "OTHER", "IMPORTS", "GAS", "WIND", "STORAGE", "BIOMASS", "HYDRO", "SOLAR"], "as": ["fuel", "share"]},
        {"lookup": "fuel", "from": {"data": {"name": "fuels"}, "key": "fuel", "fields": ["rank"]}}
      ],
      "mark": {"type": "area", "interpolate": "linear"},
      "encoding": {
        "x": {
          "field": "t",
          "type": "temporal",
          "scale": {
            "domain": [
              {"year": 2026, "month": 7, "date": 10, "hours": 7, "minutes": 44},
              {"year": 2026, "month": 7, "date": 25, "hours": 7, "minutes": 14}
            ]
          },
          "axis": {
            "title": null,
            "values": [
              {"year": 2026, "month": 7, "date": 11}, {"year": 2026, "month": 7, "date": 12},
              {"year": 2026, "month": 7, "date": 13}, {"year": 2026, "month": 7, "date": 14},
              {"year": 2026, "month": 7, "date": 15}, {"year": 2026, "month": 7, "date": 16},
              {"year": 2026, "month": 7, "date": 17}, {"year": 2026, "month": 7, "date": 18},
              {"year": 2026, "month": 7, "date": 19}, {"year": 2026, "month": 7, "date": 20},
              {"year": 2026, "month": 7, "date": 21}, {"year": 2026, "month": 7, "date": 22},
              {"year": 2026, "month": 7, "date": 23}, {"year": 2026, "month": 7, "date": 24}
            ],
            "format": "%d d %H:%M",
            "labelAngle": -45,
            "labelAlign": "center",
            "labelBaseline": "middle",
            "labelPadding": 47,
            "labelFont": "Liberation Sans",
            "labelFontSize": 16,
            "labelColor": "white",
            "labelOverlap": false,
            "labelBound": false,
            "labelFlush": false,
            "ticks": false,
            "grid": false,
            "domainColor": "#f0f0f0",
            "domainWidth": 1
          }
        },
        "y": {
          "field": "share",
          "type": "quantitative",
          "stack": "zero",
          "scale": {"domain": [-2.2, 105.5], "nice": false, "zero": false},
          "axis": {
            "title": null,
            "values": [20, 40, 50, 60, 80, 100],
            "tickSize": 5,
            "tickColor": "#f0f0f0",
            "labelPadding": 3,
            "labelFont": "Liberation Sans",
            "labelFontSize": 15,
            "labelColor": "white",
            "grid": false,
            "domainColor": "#f0f0f0",
            "domainWidth": 1
          }
        },
        "color": {
          "field": "fuel",
          "type": "nominal",
          "scale": {
            "domain": ["SOLAR", "HYDRO", "BIOMASS", "STORAGE", "WIND", "COAL", "GAS", "IMPORTS", "OTHER", "NUCLEAR"],
            "range": ["#FFE600", "#0A72BA", "#BEC831", "#FFFFFF", "#5AC4F1", "#000000", "#F5652B", "#C4006F", "#FFC6EE", "#6B2A90"]
          },
          "legend": {
            "title": null,
            "orient": "none",
            "legendX": 1004,
            "legendY": 178,
            "padding": 0,
            "symbolType": "square",
            "symbolSize": 144,
            "symbolStrokeColor": "#666666",
            "symbolStrokeWidth": 1,
            "symbolOpacity": 1,
            "labelColor": "white",
            "labelFont": "Liberation Sans",
            "labelFontSize": 18,
            "labelOffset": 5,
            "rowPadding": 8
          }
        },
        "order": {"field": "rank", "type": "quantitative"}
      }
    },
    {
      "data": {
        "values": [
          {"t": "2026-07-11T00:00"}, {"t": "2026-07-12T00:00"}, {"t": "2026-07-13T00:00"},
          {"t": "2026-07-14T00:00"}, {"t": "2026-07-15T00:00"}, {"t": "2026-07-16T00:00"},
          {"t": "2026-07-17T00:00"}, {"t": "2026-07-18T00:00"}, {"t": "2026-07-19T00:00"},
          {"t": "2026-07-20T00:00"}, {"t": "2026-07-21T00:00"}, {"t": "2026-07-22T00:00"},
          {"t": "2026-07-23T00:00"}, {"t": "2026-07-24T00:00"}, {"t": "2026-07-25T00:00"}
        ]
      },
      "mark": {"type": "rule", "color": "black", "strokeWidth": 3, "strokeDash": [3, 4]},
      "encoding": {
        "x": {"field": "t", "type": "temporal"},
        "y": {"datum": 104.6},
        "y2": {"datum": -2.2}
      }
    }
  ]
}
